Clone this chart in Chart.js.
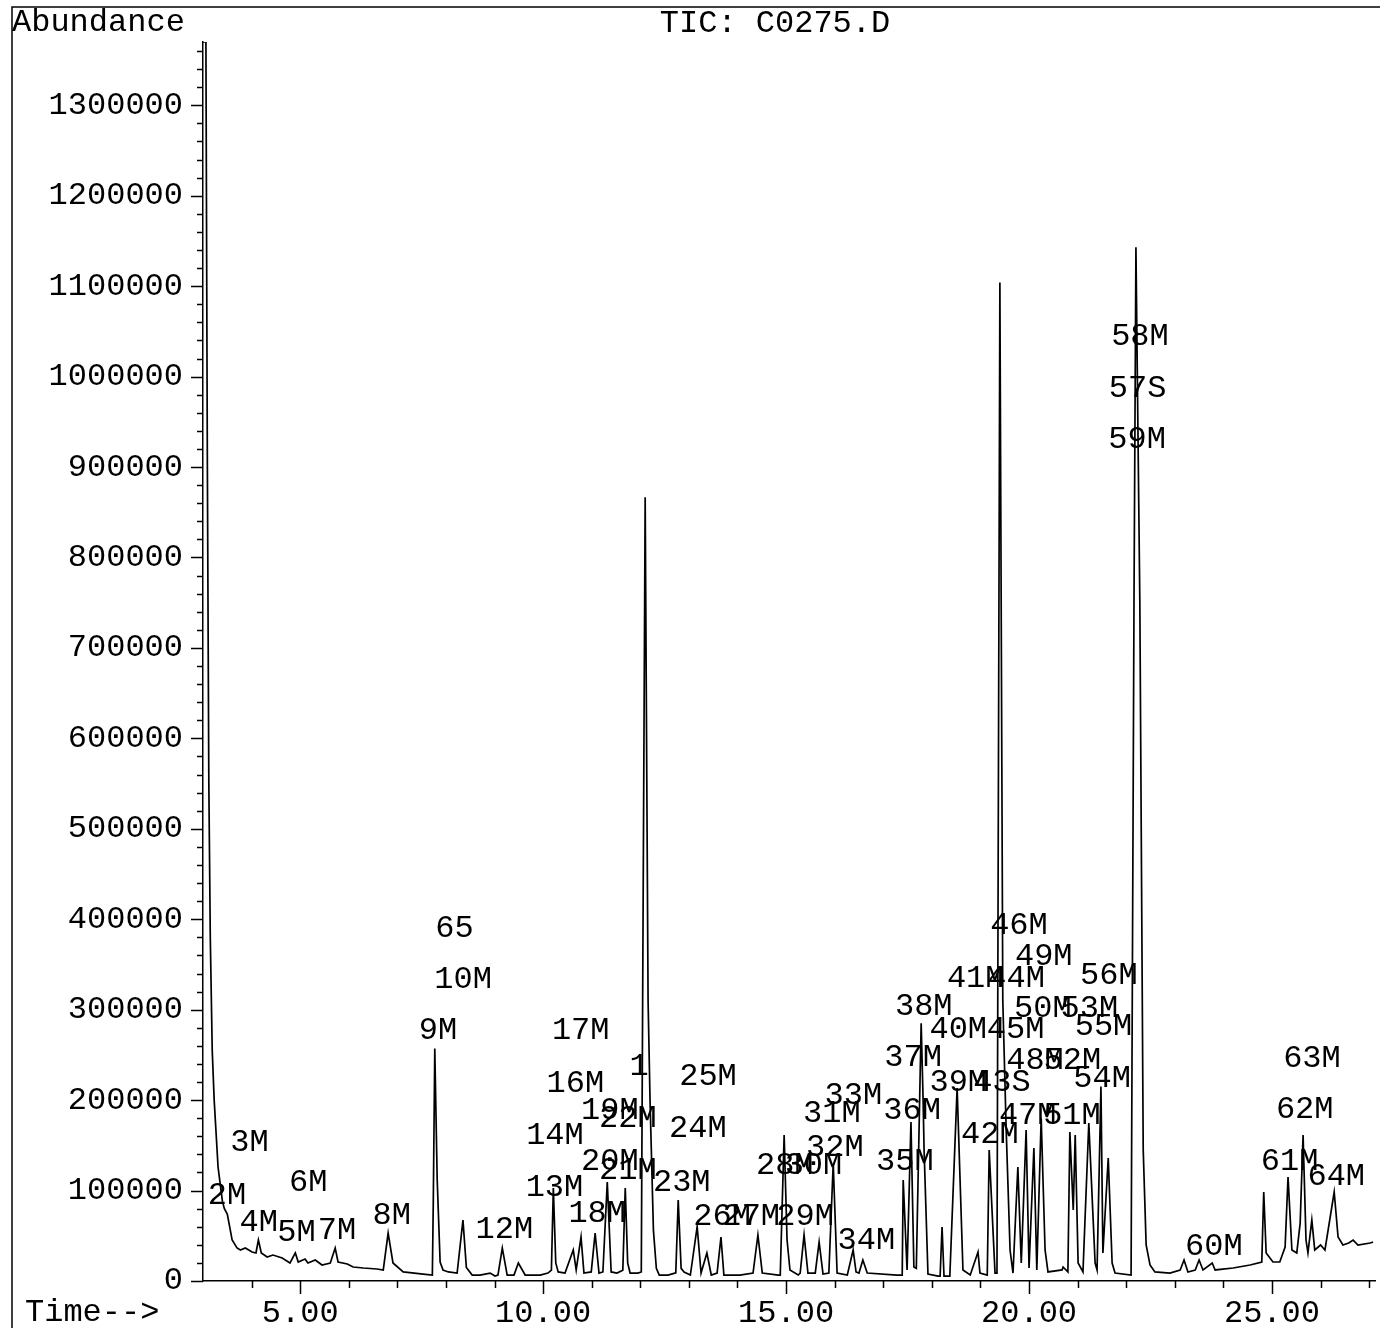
<!DOCTYPE html>
<html lang="en">
<head>
<meta charset="UTF-8">
<title>TIC: C0275.D</title>
<script src="https://cdn.jsdelivr.net/npm/chart.js"></script>
<style>
  body { margin: 0; background: #fff; }
  #wrap { width: 1380px; height: 1328px; position: relative; }
</style>
</head>
<body>
<div id="wrap"><canvas id="tic"></canvas></div>
<script>
// retention time (min) / abundance
const rt = [
  3.00, 3.06, 3.09, 3.12, 3.15, 3.19, 3.23, 3.31, 3.40, 3.44, 3.50, 3.60, 3.70, 3.77, 3.87,
  4.01, 4.09, 4.14, 4.20, 4.32, 4.44, 4.63, 4.79, 4.90, 4.96, 5.10, 5.16, 5.31, 5.45, 5.62,
  5.72, 5.78, 5.97, 6.09, 6.30, 6.58, 6.71, 6.81, 6.91, 7.12, 7.53, 7.72, 7.74, 7.77, 7.82,
  7.88, 7.94, 8.05, 8.23, 8.35, 8.42, 8.54, 8.70, 8.91, 9.01, 9.07, 9.16, 9.26, 9.40, 9.49,
  9.63, 9.94, 10.10, 10.17, 10.21, 10.26, 10.31, 10.45, 10.62, 10.68, 10.78, 10.84, 10.99, 11.07, 11.15,
  11.23, 11.32, 11.40, 11.52, 11.64, 11.69, 11.74, 11.79, 11.95, 12.02, 12.10, 12.16, 12.20, 12.27, 12.33,
  12.39, 12.57, 12.73, 12.78, 12.84, 12.90, 13.03, 13.17, 13.25, 13.37, 13.46, 13.58, 13.66, 13.72, 14.05,
  14.32, 14.42, 14.51, 14.84, 14.88, 14.96, 15.02, 15.08, 15.25, 15.29, 15.37, 15.45, 15.60, 15.68, 15.76,
  15.88, 15.97, 16.05, 16.26, 16.38, 16.44, 16.50, 16.58, 16.67, 17.28, 17.39, 17.41, 17.49, 17.57, 17.63,
  17.68, 17.78, 17.82, 17.84, 17.92, 18.13, 18.17, 18.21, 18.25, 18.37, 18.52, 18.64, 18.79, 18.95, 18.99,
  19.14, 19.18, 19.30, 19.34, 19.40, 19.46, 19.53, 19.61, 19.67, 19.77, 19.84, 19.94, 20.00, 20.10, 20.16,
  20.25, 20.33, 20.39, 20.68, 20.70, 20.80, 20.84, 20.91, 20.95, 21.01, 21.11, 21.23, 21.36, 21.40, 21.48,
  21.52, 21.63, 21.71, 21.77, 22.10, 22.16, 22.20, 22.28, 22.35, 22.41, 22.49, 22.59, 22.90, 23.11, 23.19,
  23.27, 23.42, 23.50, 23.58, 23.77, 23.83, 24.20, 24.55, 24.79, 24.83, 24.88, 25.02, 25.16, 25.27, 25.33,
  25.41, 25.51, 25.58, 25.64, 25.70, 25.74, 25.82, 25.88, 26.00, 26.09, 26.28, 26.36, 26.46, 26.58, 26.67,
  26.77, 27.02, 27.08
];
const abund = [
  1370000, 1370000, 900000, 550000, 380000, 255000, 200000, 126000, 88000, 80000, 74000, 45300, 36500, 34300, 36500,
  32000, 31000, 45300, 31000, 26500, 28700, 25400, 19900, 31000, 21000, 24300, 19900, 23200, 17700, 19900,
  36500, 21000, 18800, 15500, 14400, 13300, 12200, 53000, 19900, 10000, 7700, 6600, 89500, 257000, 111700,
  21000, 12000, 10000, 8800, 67400, 15000, 6600, 6600, 8800, 5500, 6600, 36500, 6600, 6600, 19900,
  6600, 6600, 8800, 12000, 102800, 20000, 10000, 8800, 34300, 12200, 48600, 8800, 10000, 53000, 8800,
  10000, 109400, 10000, 8800, 12000, 102800, 20000, 8800, 8800, 10000, 866700, 310000, 200000, 56000, 14000,
  6600, 6600, 9000, 89500, 14000, 10000, 6600, 60000, 8800, 31000, 6600, 8800, 48600, 6600, 6600,
  8800, 50900, 8800, 6600, 6600, 161400, 45300, 12200, 6600, 8800, 50900, 8800, 8800, 43100, 7700,
  8800, 130000, 8800, 6600, 34300, 10000, 8800, 23200, 8800, 6600, 6600, 111700, 12200, 175800, 15500,
  14000, 285000, 200000, 145000, 7700, 5500, 5500, 59700, 5500, 5500, 213400, 12200, 6600, 32100, 8800,
  6600, 144800, 8800, 8800, 1104000, 310000, 167000, 34000, 8800, 126000, 19900, 167000, 14400, 147000, 12200,
  180000, 34300, 10000, 12200, 15500, 10000, 164700, 78500, 161400, 19900, 10000, 174700, 19900, 12200, 215000,
  31000, 136000, 19900, 8800, 6600, 750000, 1143000, 753000, 144800, 40000, 17700, 10000, 8800, 12200, 23200,
  10000, 12200, 23200, 12200, 19900, 12200, 14400, 17700, 21000, 98400, 31000, 21000, 21000, 37600, 115000,
  34300, 31000, 64000, 161400, 45300, 31000, 67400, 34300, 39800, 34300, 98400, 48600, 39800, 42000, 45300,
  39800, 42000, 43100
];

// peak annotations: text, time of its left edge, abundance of its middle
const peakNames = [
  '2M', '3M', '4M', '5M', '6M', '7M', '8M', '9M', '10M', '65', '12M', '13M', '14M', '16M', '17M', '18M',
  '19M', '20M', '21M', '22M', '1', '23M', '24M', '25M', '26M', '27M', '28M', '29M', '30M', '31M', '32M',
  '33M', '34M', '35M', '36M', '37M', '38M', '39M', '40M', '41M', '42M', '43S', '44M', '45M', '46M', '47M',
  '48M', '49M', '50M', '51M', '52M', '53M', '54M', '55M', '56M', '57S', '58M', '59M', '60M', '61M', '62M',
  '63M', '64M'
];
const peakRt = [
  3.10, 3.56, 3.75, 4.53, 4.77, 5.36, 6.49, 7.44, 7.76, 7.78, 8.61, 9.64, 9.65, 10.07, 10.18, 10.52,
  10.78, 10.78, 11.15, 11.15, 11.78, 12.26, 12.59, 12.80, 13.09, 13.69, 14.38, 14.80, 14.97, 15.35, 15.41,
  15.79, 16.06, 16.85, 17.00, 17.02, 17.24, 17.95, 17.95, 18.31, 18.60, 18.85, 19.14, 19.13, 19.20, 19.38,
  19.53, 19.71, 19.69, 20.29, 20.30, 20.65, 20.91, 20.94, 21.05, 21.64, 21.69, 21.63, 23.21, 24.77, 25.08,
  25.23, 25.73
];
const peakAbund = [
  94000, 152600, 65200, 53100, 109400, 55300, 71900, 276400, 332800, 390200, 56400, 103900, 161400, 218900, 276400, 74100,
  189000, 131600, 122700, 179100, 236600, 109400, 169100, 226600, 70800, 70800, 128200, 70800, 128200, 185700, 148100,
  205600, 44200, 131600, 189000, 247600, 304000, 220000, 278600, 333900, 162500, 220000, 333900, 278600, 392500, 183500,
  244300, 359300, 301800, 183500, 244300, 301800, 224400, 281900, 338300, 987200, 1044700, 930800, 37600, 131600, 190100,
  246500, 115000
];

// labelled axis ticks
const timeTicks = [5, 10, 15, 20, 25];
const abundTicks = [0, 100000, 200000, 300000, 400000, 500000, 600000, 700000, 800000, 900000,
  1000000, 1100000, 1200000, 1300000];

const FONT = '32px "Liberation Mono", "DejaVu Sans Mono", monospace';

const decor = {
  id: 'decor',
  afterDraw(chart) {
    const { ctx, chartArea: a, scales: { x, y } } = chart;
    ctx.save();
    ctx.strokeStyle = '#000';
    ctx.lineWidth = 1.5;
    // page frame (top and left)
    ctx.beginPath();
    ctx.moveTo(12, 1328);
    ctx.lineTo(12, 7);
    ctx.lineTo(1380, 7);
    ctx.stroke();
    // tick marks
    ctx.beginPath();
    for (let v = 0; v <= y.max; v += 20000) {
      const py = Math.round(y.getPixelForValue(v)) + 0.5;
      const len = v % 100000 === 0 ? 12 : 6;
      ctx.moveTo(a.left - len, py);
      ctx.lineTo(a.left, py);
    }
    for (let t = 4; t <= x.max; t++) {
      const px = Math.round(x.getPixelForValue(t)) + 0.5;
      const len = t % 5 === 0 ? 13 : 7;
      ctx.moveTo(px, a.bottom);
      ctx.lineTo(px, a.bottom + len);
    }
    ctx.stroke();
    // titles
    ctx.font = FONT;
    ctx.fillStyle = '#000';
    ctx.textBaseline = 'middle';
    ctx.textAlign = 'left';
    ctx.fillText('Abundance', 12, 23);
    ctx.fillText('Time-->', 25, 1313);
    ctx.textAlign = 'center';
    ctx.fillText('TIC: C0275.D', 775, 24);
    // peak labels
    ctx.textAlign = 'left';
    peakNames.forEach((name, i) => {
      ctx.fillText(name, x.getPixelForValue(peakRt[i]), y.getPixelForValue(peakAbund[i]));
    });
    ctx.restore();
  }
};

new Chart(document.getElementById('tic'), {
  type: 'line',
  data: {
    datasets: [{
      data: rt.map((t, i) => ({ x: t, y: abund[i] })),
      borderColor: '#000',
      borderWidth: 1.7,
      pointRadius: 0,
      tension: 0,
      fill: false
    }]
  },
  options: {
    responsive: true,
    maintainAspectRatio: false,
    animation: false,
    layout: { padding: { top: 42, right: 5, left: 0, bottom: 0 } },
    plugins: { legend: { display: false }, tooltip: { enabled: false } },
    scales: {
      x: {
        type: 'linear',
        min: 3,
        max: 27.12,
        afterFit: s => { s.height = 47; },
        afterBuildTicks: s => { s.ticks = timeTicks.map(v => ({ value: v })); },
        grid: { display: false, drawTicks: false },
        border: { display: true, color: '#000', width: 1.5 },
        ticks: {
          maxRotation: 0,
          autoSkip: false,
          padding: 13,
          color: '#000',
          font: { family: '"Liberation Mono", monospace', size: 32 },
          callback: v => v.toFixed(2)
        }
      },
      y: {
        min: 0,
        max: 1370000,
        afterFit: s => { s.width = 203; },
        afterBuildTicks: s => { s.ticks = abundTicks.map(v => ({ value: v })); },
        grid: { display: false, drawTicks: false },
        border: { display: true, color: '#000', width: 1.5 },
        ticks: {
          autoSkip: false,
          padding: 20,
          color: '#000',
          font: { family: '"Liberation Mono", monospace', size: 32 },
          callback: v => String(v)
        }
      }
    }
  },
  plugins: [decor]
});
</script>
</body>
</html>
